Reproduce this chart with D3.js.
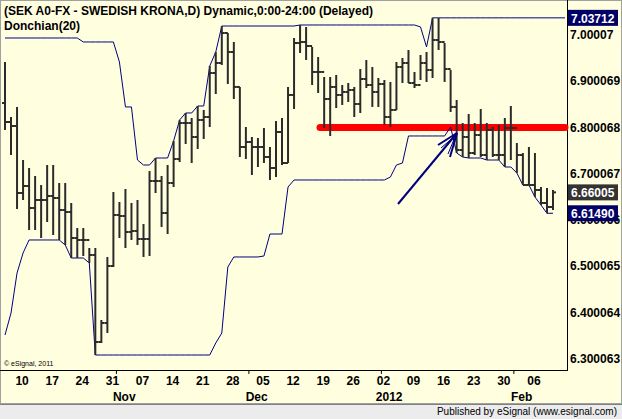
<!DOCTYPE html>
<html>
<head>
<meta charset="utf-8">
<script src="https://cdn.jsdelivr.net/npm/d3@7"></script>
<style>
  body { margin: 0; background: #ffffff; }
  svg { display: block; font-family: "Liberation Sans", Arial, sans-serif; }
</style>
</head>
<body>
<div id="chart"></div>
<script>
// daily SEK bars, Oct 5 2011 .. Feb 9 2012 (weekdays)
const highs = [6.9418,6.8229,6.8446,6.7300,6.7127,6.6954,6.6760,6.7192,6.7192,6.6803,
  6.6803,6.6371,6.5831,6.5831,6.5399,6.5399,6.3843,6.5205,6.6609,6.6393,
  6.6674,6.6371,6.6436,6.5917,6.7062,6.7343,6.6954,6.7192,6.7711,6.8165,
  6.8316,6.8208,6.8467,6.8381,6.9331,6.9634,7.0195,7.0044,6.9850,6.8878,
  6.8013,6.7797,6.7776,6.7992,6.7581,6.8143,6.8208,6.8878,6.9936,7.0217,
  7.0174,6.9742,6.9526,6.9094,6.9094,6.9137,6.8921,6.8964,6.8878,6.9266,
  6.9461,6.9310,6.9072,6.9029,6.8986,6.9418,6.9504,6.9677,6.9202,6.9569,
  6.9634,7.03712,7.03712,6.9828,6.9245,6.8597,6.8100,6.8294,6.8100,6.8402,
  6.8100,6.8013,6.8057,6.8208,6.8467,6.7668,6.7451,6.7581,6.7451,6.6717,
  6.6695,6.6652];
const lows = [6.7948,6.7408,6.6241,6.6436,6.5788,6.5788,6.5615,6.5960,6.5680,6.5572,
  6.5464,6.5183,6.5183,6.5226,6.5075,6.3087,6.3346,6.3562,6.4988,6.5615,
  6.5399,6.5572,6.5464,6.5205,6.5226,6.6587,6.5853,6.5701,6.6717,6.7257,
  6.7646,6.7235,6.7538,6.7754,6.8013,6.8726,6.9353,6.8942,6.8618,6.7365,
  6.7322,6.6976,6.7149,6.7235,6.6868,6.6933,6.7192,6.7235,6.8402,6.9612,
  6.9461,6.8921,6.8748,6.7992,6.7819,6.8424,6.8489,6.8554,6.8229,6.8316,
  6.8856,6.8446,6.8446,6.8057,6.8013,6.8381,6.8964,6.8964,6.8856,6.9029,
  6.8986,6.9072,6.9677,6.8986,6.8338,6.7451,6.7365,6.7343,6.7408,6.7365,
  6.7300,6.7365,6.7300,6.7149,6.7300,6.7019,6.6760,6.6760,6.6501,6.6328,
  6.6149,6.6220];
const opens = [6.8532,6.8121,6.8035,6.6587,6.6738,6.6263,6.6436,6.6436,6.6522,6.6479,
  6.6220,6.6177,6.5615,6.5572,6.5572,6.5248,6.3368,6.3778,6.5010,6.6112,
  6.6090,6.5745,6.5766,6.5593,6.5593,6.6846,6.6846,6.6155,6.6803,6.7322,
  6.8100,6.8100,6.7797,6.8165,6.8229,6.9180,6.9396,7.0044,6.9634,6.8878,
  6.7581,6.7689,6.7581,6.7581,6.7365,6.7127,6.7905,6.7235,6.8705,6.9828,
  6.9850,6.9763,6.9202,6.9202,6.8618,6.8878,6.8705,6.8770,6.8813,6.8510,
  6.9050,6.8921,6.8770,6.8942,6.8229,6.8381,6.9310,6.9396,6.8964,6.8921,
  6.9396,6.9245,6.9893,6.9850,6.9266,6.8446,6.7516,6.7797,6.7451,6.7840,
  6.7408,6.7948,6.7408,6.7408,6.7992,6.7992,6.7408,6.6760,6.6760,6.6652,
  6.6371,6.6285];
const closes = [6.8121,6.8035,6.6587,6.6738,6.6263,6.6436,6.6436,6.6522,6.6479,6.6220,
  6.6177,6.5615,6.5572,6.5572,6.5248,6.3368,6.3778,6.5010,6.6112,6.6090,
  6.5745,6.5766,6.5593,6.5593,6.6846,6.6846,6.6155,6.6803,6.7322,6.8100,
  6.8100,6.7797,6.8165,6.8229,6.9180,6.9396,7.0044,6.9634,6.8878,6.7581,
  6.7689,6.7581,6.7581,6.7365,6.7127,6.7905,6.7235,6.8705,6.9828,6.9850,
  6.9763,6.9202,6.9202,6.8618,6.8878,6.8705,6.8770,6.8813,6.8510,6.9050,
  6.8921,6.8770,6.8942,6.8229,6.8381,6.9310,6.9396,6.8964,6.8921,6.9396,
  6.9245,6.9893,6.9850,6.9266,6.8446,6.7516,6.7797,6.7451,6.7840,6.7408,
  6.7948,6.7408,6.7408,6.7992,6.7992,6.7408,6.6760,6.6760,6.6652,6.6371,
  6.6285,6.66005];
// channel extremes coming from bars before the visible window
const priorUpper = [6.9936,6.9936,6.9936,6.9936,6.9936,6.9936,6.9936,6.9936,6.9936,6.9936,
  6.9936,6.9936,6.9936,6.9850,6.9850,6.9850,6.9850,6.9850,6.9850];
const priorLower = [6.3519,6.3994,6.4859,6.5291,6.5572,6.5572,6.5572,6.5572,6.5572,6.5572,6.5572];
const priceTicks = [6.300063,6.400064,6.500065,6.600066,6.700067,6.800068,6.900069,7.00007];
const supportLevel = 6.800068;
const startDate = new Date(2011, 9, 5);
const endDate = new Date(2012, 1, 9);
const period = 20;

const W = 622, H = 419;
const plot = { left: 2, right: 567, top: 0, bottom: 370 };
const bg = "#ffffe0";

const days = d3.timeDay.range(startDate, d3.timeDay.offset(endDate, 1)).filter(d => d.getDay() > 0 && d.getDay() < 6);
const bars = days.map((d, i) => ({ date: d, i, o: opens[i], h: highs[i], l: lows[i], c: closes[i] }));

// Donchian channel
bars.forEach((b, i) => {
    const win = bars.slice(Math.max(0, i - period + 1), i + 1);
    let up = d3.max(win, w => w.h), lo = d3.min(win, w => w.l);
    if (priorUpper[i] !== undefined) up = Math.max(up, priorUpper[i]);
    if (priorLower[i] !== undefined) lo = Math.min(lo, priorLower[i]);
    b.up = up; b.lo = lo;
});

const x = d3.scaleLinear().domain([0, 91]).range([5, 553]);
const y = d3.scaleLinear().domain([6.300063, 7.00007]).range([359, 35]);

const svg = d3.select("#chart").append("svg").attr("width", W).attr("height", H);
svg.append("rect").attr("width", W).attr("height", H).attr("fill", bg);

// frame
svg.append("rect").attr("x", 0.5).attr("y", 0.5).attr("width", W - 1).attr("height", 403)
    .attr("fill", "none").attr("stroke", "#a0a0a0");
svg.append("line").attr("x1", plot.right + 0.5).attr("x2", plot.right + 0.5).attr("y1", 0).attr("y2", plot.bottom)
    .attr("stroke", "#000");
svg.append("line").attr("x1", 0).attr("x2", plot.right + 1).attr("y1", plot.bottom + 0.5).attr("y2", plot.bottom + 0.5)
    .attr("stroke", "#000");

const g = svg.append("g");

// support line
g.append("line").attr("x1", 320).attr("x2", plot.right - 2)
    .attr("y1", y(supportLevel)).attr("y2", y(supportLevel))
    .attr("stroke", "#ff0000").attr("stroke-width", 7).attr("stroke-linecap", "round");

// channel
["up", "lo"].forEach(k => {
    g.append("path").datum(bars)
        .attr("d", d3.line().x(d => x(d.i)).y(d => y(d[k])))
        .attr("fill", "none").attr("stroke", "#000080").attr("stroke-width", 1);
});
// extend last upper value to axis
g.append("line").attr("x1", x(91)).attr("x2", plot.right - 2).attr("y1", y(bars[91].up)).attr("y2", y(bars[91].up))
    .attr("stroke", "#000080");

// OHLC bars
const bar = g.selectAll("g.bar").data(bars).join("g").attr("stroke", "#2b2b2b").attr("stroke-width", 2);
bar.append("line").attr("x1", d => x(d.i)).attr("x2", d => x(d.i)).attr("y1", d => y(d.h)).attr("y2", d => y(d.l));
bar.append("line").attr("x1", d => x(d.i) - 3).attr("x2", d => x(d.i)).attr("y1", d => y(d.o)).attr("y2", d => y(d.o));
bar.append("line").attr("x1", d => x(d.i)).attr("x2", d => x(d.i) + 3).attr("y1", d => y(d.c)).attr("y2", d => y(d.c));

// arrow
const arrow = g.append("g").attr("stroke", "#000080").attr("stroke-width", 2).attr("fill", "none");
arrow.append("line").attr("x1", 398).attr("y1", 204).attr("x2", 457).attr("y2", 133);
arrow.append("line").attr("x1", 457).attr("y1", 133).attr("x2", 438).attr("y2", 145);
arrow.append("line").attr("x1", 457).attr("y1", 133).attr("x2", 450).attr("y2", 157);
arrow.append("line").attr("x1", 455).attr("y1", 136).attr("x2", 441).attr("y2", 148).attr("stroke-width", 1);
arrow.append("line").attr("x1", 455).attr("y1", 137).attr("x2", 448).attr("y2", 154).attr("stroke-width", 1);

// right axis
svg.append("g").selectAll("text").data(priceTicks).join("text")
    .attr("x", 570).attr("y", d => y(d) + 4)
    .attr("font-size", 12).attr("font-weight", "bold").attr("fill", "#000")
    .text(d => d.toFixed(d >= 7 ? 5 : 6));

const boxes = [
    { v: bars[91].up, fill: "#000066" },
    { v: closes[91], fill: "#333333" },
    { v: bars[91].lo, fill: "#000066" }
];
const bx = svg.append("g").selectAll("g").data(boxes).join("g");
bx.append("rect").attr("x", 568).attr("y", d => y(d.v) - 8).attr("width", 50).attr("height", 16).attr("fill", d => d.fill);
bx.append("text").attr("x", 571).attr("y", d => y(d.v) + 5).attr("font-size", 12).attr("font-weight", "bold")
    .attr("fill", "#fff").text(d => d.v.toFixed(5));

// bottom axis
const mondays = bars.filter(b => b.date.getDay() === 1);
svg.append("g").selectAll("text").data(mondays).join("text")
    .attr("x", d => x(d.i) - 1).attr("y", 385).attr("text-anchor", "middle")
    .attr("font-size", 12).attr("font-weight", "bold").text(d => d3.timeFormat("%d")(d.date));
const monthStarts = bars.filter((b, i) => i > 0 && b.date.getMonth() !== bars[i - 1].date.getMonth());
svg.append("g").selectAll("line").data(monthStarts).join("line")
    .attr("x1", d => x(d.i - 0.5)).attr("x2", d => x(d.i - 0.5)).attr("y1", plot.bottom).attr("y2", plot.bottom + 4)
    .attr("stroke", "#000");
svg.append("g").selectAll("text").data(monthStarts).join("text")
    .attr("x", d => x(d.i + 0.8)).attr("y", 401).attr("text-anchor", "middle")
    .attr("font-size", 12).attr("font-weight", "bold")
    .text(d => d.date.getMonth() === 0 ? d3.timeFormat("%Y")(d.date) : d3.timeFormat("%b")(d.date));

// titles
svg.append("text").attr("x", 4).attr("y", 15).attr("font-size", 12).attr("font-weight", "bold").attr("fill", "#000")
    .text("(SEK A0-FX - SWEDISH KRONA,D) Dynamic,0:00-24:00 (Delayed)");
svg.append("text").attr("x", 4).attr("y", 30).attr("font-size", 12).attr("font-weight", "bold").attr("fill", "#000")
    .text("Donchian(20)");
svg.append("text").attr("x", 4).attr("y", 366).attr("font-size", 7).attr("fill", "#000").text("© eSignal, 2011");

// footer
svg.append("rect").attr("x", 0).attr("y", 404).attr("width", W).attr("height", 15).attr("fill", "#ececec");
svg.append("line").attr("x1", 0).attr("x2", W).attr("y1", 404.5).attr("y2", 404.5).attr("stroke", "#808080");
svg.append("text").attr("x", 617).attr("y", 415).attr("text-anchor", "end").attr("font-size", 10).attr("fill", "#000")
    .text("Published by eSignal (www.esignal.com)");
</script>
</body>
</html>
